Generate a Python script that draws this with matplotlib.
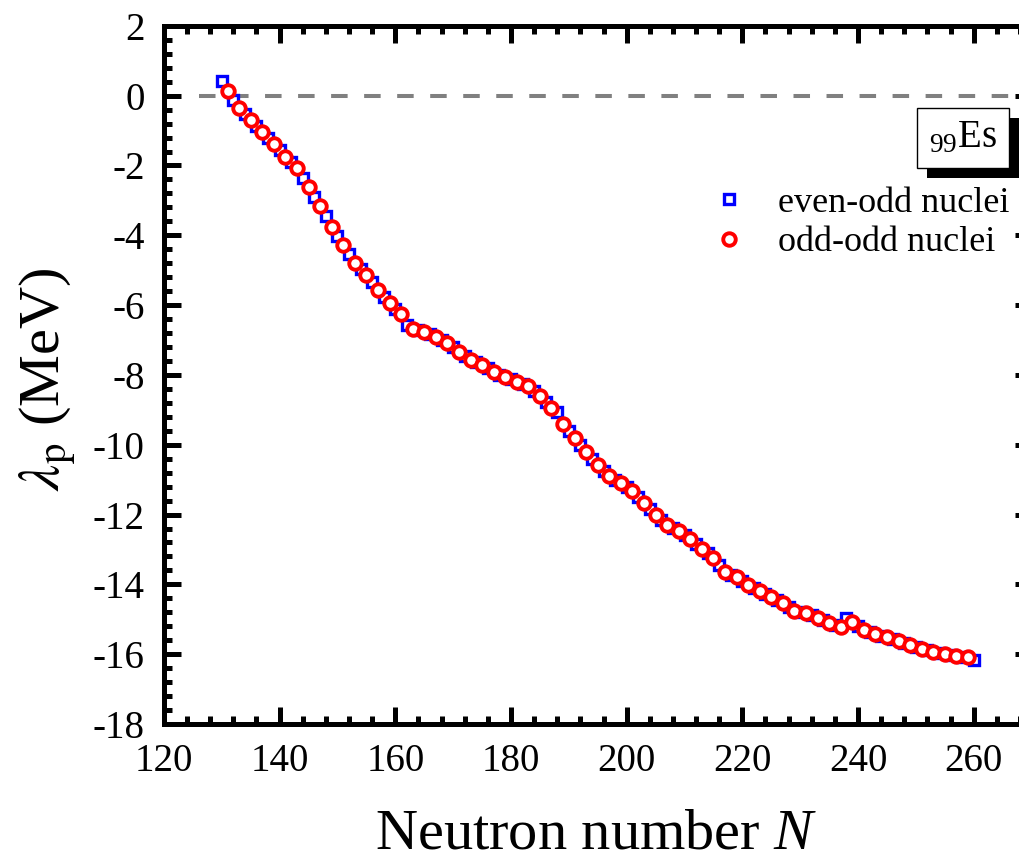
import numpy as np
import matplotlib
matplotlib.use('Agg')
import matplotlib.pyplot as plt
import matplotlib.patheffects as pe
from matplotlib.ticker import MultipleLocator

plt.rcParams['font.family'] = 'Liberation Serif'
plt.rcParams['mathtext.fontset'] = 'custom'
plt.rcParams['mathtext.rm'] = 'Liberation Serif'
plt.rcParams['mathtext.it'] = 'Liberation Serif:italic'
plt.rcParams['axes.unicode_minus'] = False

# even-odd nuclei (even N), blue squares
n_even = np.arange(130, 261, 2)
lam_even = [0.43, -0.12, -0.53, -0.87, -1.22, -1.57, -1.91, -2.35, -2.90, -3.46,
            -4.02, -4.54, -4.96, -5.35, -5.76, -6.10, -6.57, -6.72, -6.83, -7.00,
            -7.21, -7.45, -7.64, -7.81, -7.99, -8.13, -8.26, -8.46, -8.77, -9.05,
            -9.60, -10.00, -10.40, -10.75, -11.00, -11.22, -11.50, -11.83, -12.15, -12.38,
            -12.58, -12.83, -13.11, -13.45, -13.72, -13.90, -14.10, -14.27, -14.44, -14.64,
            -14.80, -14.89, -15.03, -15.16, -14.95, -15.20, -15.37, -15.47, -15.56, -15.68,
            -15.80, -15.89, -15.97, -16.02, -16.07, -16.18]

# odd-odd nuclei (odd N), red circles
n_odd = np.arange(131, 260, 2)
lam_odd = [0.13, -0.36, -0.70, -1.05, -1.39, -1.75, -2.07, -2.63, -3.17, -3.76,
           -4.29, -4.79, -5.13, -5.58, -5.95, -6.26, -6.69, -6.76, -6.90, -7.09,
           -7.34, -7.57, -7.71, -7.91, -8.07, -8.19, -8.33, -8.60, -8.94, -9.41,
           -9.80, -10.20, -10.59, -10.90, -11.11, -11.33, -11.67, -12.00, -12.29, -12.48,
           -12.69, -12.98, -13.25, -13.65, -13.80, -14.01, -14.18, -14.36, -14.52, -14.76,
           -14.83, -14.95, -15.11, -15.21, -15.09, -15.30, -15.43, -15.50, -15.62, -15.74,
           -15.85, -15.93, -16.00, -16.04, -16.09]

fig = plt.figure(figsize=(10.19, 8.61), dpi=100)
ax = fig.add_axes([0.1609, 0.1591, 0.8514, 0.8109])

# zero reference line
ax.plot([126, 270], [0, 0], color='#808080', lw=2.9, ls=(0, (4.1, 4.1)), zorder=1)

ax.plot(n_even, lam_even, ls='none', marker='s', ms=7.4, mew=2.4,
        mec='#0000ff', mfc='white', label='even-odd nuclei', zorder=2)
ax.plot(n_odd, lam_odd, ls='none', marker='o', ms=9.0, mew=2.8,
        mec='#ff0000', mfc='white', label='odd-odd nuclei', zorder=3)

ax.set_xlim(120, 270)
ax.set_ylim(-18, 2)
ax.xaxis.set_major_locator(MultipleLocator(20))
ax.xaxis.set_minor_locator(MultipleLocator(4))
ax.yaxis.set_major_locator(MultipleLocator(2))
ax.yaxis.set_minor_locator(MultipleLocator(0.4))
ax.tick_params(which='both', direction='in', top=True, right=True,
               labelsize=28, pad=14)
ax.tick_params(which='major', length=12, width=3.6)
ax.tick_params(which='minor', length=6, width=3.6)
for s in ax.spines.values():
    s.set_linewidth(3.6)

ax.set_xlabel(r'Neutron number $N$', fontsize=42)
ax.set_ylabel(r'$\lambda_\mathrm{p}$ (MeV)', fontsize=42, math_fontfamily='stix')
ax.xaxis.set_label_coords(0.498, -0.121)
ax.yaxis.set_label_coords(-0.099, 0.494)

ax.legend(loc='center left', bbox_to_anchor=(0.631, 0.7176), frameon=False,
          fontsize=26, handlelength=1.0, handletextpad=0.85,
          labelspacing=0.17, borderpad=0, borderaxespad=0)

t = ax.text(0.921, 0.839, r'${}_{99}\mathrm{Es}$', transform=ax.transAxes,
            ha='center', va='center', fontsize=28,
            bbox=dict(boxstyle='square,pad=0.3', fc='white', ec='black', lw=1))
t.get_bbox_patch().set_path_effects([
    pe.SimplePatchShadow(offset=(7.2, -7.2), shadow_rgbFace='black', alpha=1.0),
    pe.Normal()])

fig.savefig('out.png', dpi=100)
